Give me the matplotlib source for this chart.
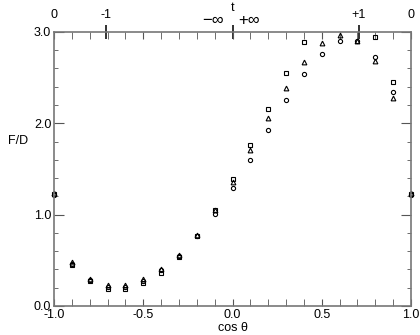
import numpy as np
import matplotlib
matplotlib.use("Agg")
import matplotlib.pyplot as plt
from matplotlib.ticker import MultipleLocator
from matplotlib.transforms import Bbox, TransformedBbox

plt.rcParams['font.family'] = ['Liberation Sans', 'DejaVu Sans']

cos_theta = [-1.0, -0.9, -0.8, -0.7, -0.6, -0.5, -0.4, -0.3, -0.2, -0.1, 0.0,
             0.1, 0.2, 0.3, 0.4, 0.5, 0.6, 0.7, 0.8, 0.9, 1.0]
fd_square = [1.23, 0.45, 0.27, 0.19, 0.19, 0.25, 0.36, 0.54, 0.77, 1.05, 1.39,
             1.76, 2.16, 2.55, 2.89, 3.10, 3.20, 3.15, 2.94, 2.45, 1.23]
fd_triangle = [1.24, 0.48, 0.30, 0.23, 0.23, 0.29, 0.40, 0.56, 0.78, 1.05, 1.36,
               1.71, 2.06, 2.39, 2.67, 2.88, 2.97, 2.90, 2.68, 2.28, 1.24]
fd_circle = [1.22, 0.46, 0.28, 0.21, 0.21, 0.27, 0.39, 0.55, 0.77, 1.01, 1.29,
             1.60, 1.93, 2.25, 2.54, 2.76, 2.90, 2.90, 2.73, 2.34, 1.22]

t_pos = [-1.0, -0.707, 0.707, 1.0]
t_labels = ["0", "-1", "+1", "0"]

fig = plt.figure(figsize=(4.2, 3.35), dpi=100)
ax = fig.add_axes([0.1286, 0.0866, 0.85, 0.818])

# clip only in y, so the points on the side spines stay whole
clip = TransformedBbox(Bbox([[-0.05, 0.0], [1.05, 1.0]]), ax.transAxes)

mk = dict(linestyle='none', markerfacecolor='none', markeredgecolor='black',
          markeredgewidth=0.8)
for y, m, ms in [(fd_square, 's', 3.2), (fd_triangle, '^', 3.4), (fd_circle, 'o', 3.0)]:
    ln, = ax.plot(cos_theta, y, marker=m, markersize=ms, **mk)
    ln.set_clip_box(clip)

ax.set_xlim(-1.0, 1.0)
ax.set_ylim(0.0, 3.0)
ax.xaxis.set_major_locator(MultipleLocator(0.5))
ax.xaxis.set_minor_locator(MultipleLocator(0.1))
ax.yaxis.set_major_locator(MultipleLocator(1.0))
ax.yaxis.set_minor_locator(MultipleLocator(0.2))
ax.xaxis.set_major_formatter(plt.FuncFormatter(lambda v, p: "%.1f" % v))
ax.yaxis.set_major_formatter(plt.FuncFormatter(lambda v, p: "%.1f" % v))

for s in ax.spines.values():
    s.set_color('#777777')
    s.set_linewidth(1.2)

ax.tick_params(which='both', direction='in', top=True, right=True,
               color='#555555', labelsize=9, pad=2)
ax.tick_params(axis='x', which='both', length=5)
ax.tick_params(axis='y', which='major', length=7)
ax.tick_params(axis='y', which='minor', length=3)

ax.set_xlabel(u"cos \u03b8", fontsize=9, labelpad=1)
ax.set_ylabel("F/D", fontsize=9, rotation=0)
ax.yaxis.set_label_coords(-0.1, 0.58)

# top t axis
sec = ax.secondary_xaxis('top')
sec.set_xticks([-0.707, 0.0, 0.707])
sec.set_xticklabels([])
sec.tick_params(direction='inout', length=10, width=1.3, color='#222222')
for s in sec.spines.values():
    s.set_visible(False)
for p, lab in zip(t_pos, t_labels):
    ax.text(p, 1.04, lab, transform=ax.get_xaxis_transform(),
            ha='center', va='bottom', fontsize=9)
ax.text(-0.05, 1.015, u"\u2212\u221e", transform=ax.get_xaxis_transform(),
        ha='right', va='bottom', fontsize=12)
ax.text(0.03, 1.015, u"+\u221e", transform=ax.get_xaxis_transform(),
        ha='left', va='bottom', fontsize=12)
ax.text(0.0, 1.065, "t", transform=ax.get_xaxis_transform(),
        ha='center', va='bottom', fontsize=9)

fig.savefig("out.png", dpi=100)
